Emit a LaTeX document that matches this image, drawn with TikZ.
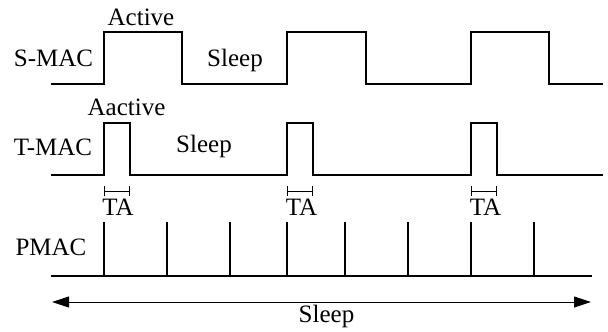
\documentclass[tikz,border=0pt]{standalone}
\usepackage{fontspec}
\setmainfont{Liberation Serif}
\usetikzlibrary{arrows.meta}
\begin{document}
\begin{tikzpicture}[x=1pt,y=-1pt,
  sig/.style={line width=2pt, line join=miter},
  thin/.style={line width=1pt},
  lbl/.style={font=\fontsize{25}{30}\selectfont, inner sep=0pt, anchor=base},
  talbl/.style={font=\fontsize{25}{30}\selectfont, inner sep=0pt, anchor=base}]
\useasboundingbox (0,0) rectangle (608,332);
% S-MAC
\draw[sig] (51,84) -- (104,84) -- (104,32) -- (182,32) -- (182,84) -- (287,84) -- (287,32) -- (366,32) -- (366,84) -- (471,84) -- (471,32) -- (549,32) -- (549,84) -- (603,84);
% T-MAC
\draw[sig] (51,175) -- (104,175) -- (104,123) -- (130,123) -- (130,175) -- (287,175) -- (287,123) -- (313,123) -- (313,175) -- (471,175) -- (471,123) -- (497,123) -- (497,175) -- (603,175);
% TA brackets
\foreach \a/\b in {104/130, 287/313, 471/497}
  \draw[thin, {Bar[width=10pt]}-{Bar[width=10pt]}] (\a,191) -- (\b,191);
% PMAC
\draw[sig] (51,276) -- (592,276);
\foreach \x in {104,166.5,229.5,287,345,408,471,534}
  \draw[sig] (\x,222) -- (\x,276);
% Sleep arrow
\coordinate (aL) at (52,302);
\coordinate (aR) at (591,302);
\draw[thin, {Triangle[length=17pt,width=11pt]}-{Triangle[length=17pt,width=11pt]}] (aL) -- (aR);
% labels
\node[lbl] (smac) at (53.5,66) {S-MAC};
\node[lbl] (act) at (141,25) {Active};
\node[lbl] (sl1) at (235,66) {Sleep};
\node[lbl] (aact) at (126.5,115) {Aactive};
\node[lbl] (tmac) at (53,155) {T-MAC};
\node[lbl] (sl2) at (204,152) {Sleep};
\node[lbl] (pmac) at (51,255) {PMAC};
\node[talbl] (ta1) at (118,215) {TA};
\node[talbl] (ta2) at (301.5,215) {TA};
\node[talbl] (ta3) at (485.5,215) {TA};
\node[lbl] (sl3) at (326.5,322) {Sleep};
\end{tikzpicture}
\end{document}
